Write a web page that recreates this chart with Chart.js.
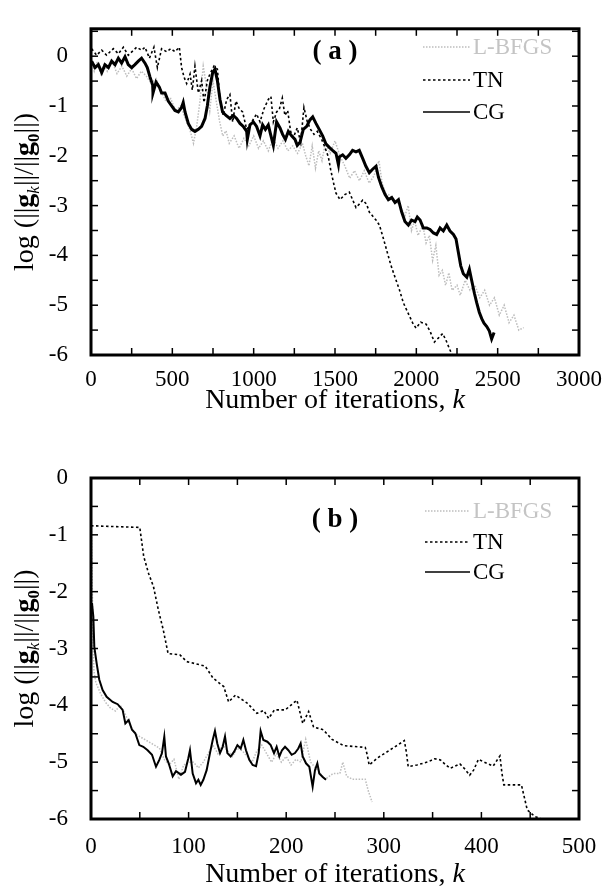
<!DOCTYPE html>
<html><head><meta charset="utf-8">
<script src="https://cdn.jsdelivr.net/npm/chart.js@4.4.0/dist/chart.umd.min.js"></script>
<style>
html,body{margin:0;padding:0;background:#fff;}
#wrap{position:relative;width:607px;height:890px;background:#fff;}
canvas{position:absolute;left:0;}
#ca{top:0;} #cb{top:445px;}
</style></head><body>
<div id="wrap"><canvas id="ca" width="607" height="445"></canvas><canvas id="cb" width="607" height="445"></canvas></div>
<script>
// ---------- Panel (a) data ----------
const A_X_TICKS = [0, 500, 1000, 1500, 2000, 2500, 3000];
const A_Y_TICKS = [-6, -5, -4, -3, -2, -1, 0];
const A_CG_X = [4,25,45,66,86,107,127,148,168,188,209,229,250,270,291,311,332,346,363,379,381,400,420,434,455,475,496,516,537,557,567,578,598,619,639,660,680,701,715,731,748,762,777,793,809,830,854,875,895,916,936,957,961,977,998,1018,1039,1055,1072,1090,1104,1121,1141,1162,1178,1195,1213,1233,1254,1268,1285,1305,1326,1346,1363,1383,1403,1424,1444,1465,1485,1506,1521,1527,1547,1567,1588,1608,1629,1649,1670,1690,1711,1731,1752,1767,1787,1808,1828,1849,1869,1890,1910,1930,1951,1971,1992,2006,2023,2043,2064,2084,2105,2125,2146,2166,2187,2207,2228,2244,2258,2273,2289,2310,2326,2340,2357,2371,2387,2402,2416,2433,2449,2463,2478];
const A_CG_Y = [-0.10,-0.23,-0.17,-0.33,-0.17,-0.23,-0.10,-0.17,-0.04,-0.14,-0.01,-0.17,-0.23,-0.17,-0.10,-0.04,-0.14,-0.23,-0.42,-0.58,-0.74,-0.52,-0.62,-0.74,-0.74,-0.90,-1.00,-1.09,-1.12,-1.03,-0.93,-1.12,-1.35,-1.47,-1.51,-1.47,-1.41,-1.25,-1.00,-0.62,-0.33,-0.26,-0.49,-0.87,-1.12,-1.19,-1.25,-1.19,-1.25,-1.35,-1.41,-1.51,-1.67,-1.38,-1.32,-1.41,-1.60,-1.38,-1.47,-1.38,-1.57,-1.79,-1.32,-1.44,-1.57,-1.67,-1.51,-1.60,-1.67,-1.79,-1.73,-1.47,-1.41,-1.28,-1.22,-1.35,-1.47,-1.60,-1.76,-1.83,-1.89,-1.95,-2.18,-2.02,-1.98,-2.05,-1.98,-1.89,-1.92,-1.89,-2.05,-2.21,-2.34,-2.27,-2.21,-2.43,-2.62,-2.78,-2.88,-2.84,-2.94,-2.88,-3.13,-3.32,-3.39,-3.29,-3.32,-3.23,-3.29,-3.45,-3.45,-3.48,-3.55,-3.58,-3.45,-3.51,-3.39,-3.51,-3.58,-3.67,-3.93,-4.21,-4.37,-4.44,-4.28,-4.50,-4.76,-4.95,-5.14,-5.27,-5.36,-5.43,-5.52,-5.68,-5.55];
const A_TN_X = [4,35,66,96,137,168,199,229,281,311,332,359,387,408,434,465,490,516,543,557,572,588,609,623,639,660,680,695,715,731,756,777,793,813,834,854,871,891,912,932,957,988,1018,1039,1063,1090,1106,1121,1141,1158,1176,1192,1209,1227,1244,1268,1289,1309,1330,1350,1371,1391,1418,1438,1459,1473,1490,1506,1531,1560,1588,1608,1629,1649,1670,1694,1711,1752,1773,1793,1818,1842,1869,1896,1920,1951,1978,1998,2027,2060,2084,2111,2135,2162,2183,2203,2220];
const A_TN_Y = [0.15,0.02,0.12,0.02,0.15,0.05,0.18,0.02,0.18,0.12,0.18,-0.04,0.18,-0.23,0.15,0.09,0.15,0.09,0.18,-0.23,-0.42,-0.55,-0.36,-0.68,-0.20,-0.74,-0.49,-0.93,-0.49,-0.36,-0.20,-0.26,-0.87,-1.19,-0.87,-0.77,-1.32,-0.90,-1.06,-1.12,-1.47,-1.32,-1.16,-1.32,-1.06,-0.87,-0.81,-1.32,-1.12,-1.06,-0.84,-1.19,-1.09,-1.51,-1.63,-1.44,-1.73,-1.03,-1.32,-1.47,-1.57,-1.51,-1.67,-1.83,-2.02,-2.27,-2.53,-2.75,-2.88,-2.78,-2.73,-2.88,-3.04,-2.97,-2.89,-2.97,-3.13,-3.29,-3.39,-3.61,-3.90,-4.18,-4.44,-4.69,-4.95,-5.17,-5.36,-5.46,-5.34,-5.38,-5.52,-5.74,-5.66,-5.57,-5.71,-5.87,-6.0];
const A_LB_X = [0,20,40,60,80,100,130,160,190,220,250,280,310,340,370,400,430,460,490,520,550,580,610,630,650,670,690,710,730,750,770,790,810,830,850,880,910,940,970,1000,1030,1060,1090,1120,1150,1180,1210,1240,1270,1300,1320,1340,1360,1380,1400,1420,1440,1470,1500,1530,1560,1590,1620,1650,1680,1710,1740,1770,1790,1810,1840,1870,1900,1930,1950,1970,1990,2010,2040,2060,2080,2100,2120,2140,2160,2180,2200,2220,2250,2270,2300,2330,2360,2390,2420,2450,2480,2510,2540,2570,2600,2630,2660];
const A_LB_Y = [-0.05,-0.3,-0.1,-0.35,-0.15,-0.3,-0.1,-0.35,-0.2,-0.4,-0.25,-0.45,-0.3,-0.4,-0.55,-0.45,-0.7,-0.9,-0.85,-1.1,-1.0,-1.25,-1.5,-1.75,-1.4,-0.9,-0.2,-0.6,-1.1,-0.5,-0.9,-1.3,-1.6,-1.5,-1.75,-1.6,-1.85,-1.65,-1.8,-1.6,-1.85,-1.7,-1.9,-1.65,-1.85,-1.7,-1.9,-1.8,-1.95,-1.75,-2.0,-2.2,-1.8,-2.25,-1.9,-2.1,-1.75,-1.95,-1.7,-2.0,-2.2,-2.45,-2.3,-2.5,-2.3,-2.55,-2.4,-2.1,-2.55,-2.75,-2.8,-2.9,-3.0,-3.2,-3.0,-3.5,-3.3,-3.6,-3.4,-3.75,-3.6,-4.1,-3.8,-4.4,-4.3,-4.6,-4.35,-4.7,-4.6,-4.8,-4.5,-4.7,-4.6,-4.85,-4.7,-5.0,-4.85,-5.2,-5.0,-5.35,-5.2,-5.5,-5.45];

// ---------- Panel (b) data ----------
const B_X_TICKS = [0, 100, 200, 300, 400, 500];
const B_Y_TICKS = [-6, -5, -4, -3, -2, -1, 0];
const B_CG_X = [1,2.4,3.4,5.8,8.5,11.9,16,22.2,27.3,32.4,35.2,38.6,42,45.4,49.5,53.6,58,62.5,66.6,70,72.7,75.1,76.8,79.6,83.7,87.1,92.2,96.3,99.7,101.4,104.2,107.6,110,112.4,115.1,118.5,121.9,124.7,127,129.4,132.2,134.9,137.3,139.7,143.1,146.5,150,153.4,156.1,158.8,162.2,165.6,169.1,171.8,173.8,176.6,180.7,184.1,187.5,190.2,193,195.7,198.8,202.2,205.6,209,212.4,214.8,216.9,220.3,223.7,227.1,229.5,231.9,233.9,237.4,240.8];
const B_CG_Y = [-2.2,-2.44,-2.97,-3.26,-3.55,-3.73,-3.85,-3.94,-3.98,-4.08,-4.32,-4.26,-4.43,-4.49,-4.70,-4.73,-4.79,-4.87,-5.08,-4.96,-4.84,-4.55,-4.90,-5.02,-5.25,-5.16,-5.22,-5.17,-4.93,-4.79,-5.2,-5.37,-5.31,-5.40,-5.31,-5.14,-4.84,-4.61,-4.45,-4.67,-4.84,-4.73,-4.55,-4.84,-4.90,-4.82,-4.70,-4.76,-4.61,-4.79,-4.96,-5.05,-5.07,-4.84,-4.45,-4.61,-4.64,-4.70,-4.84,-4.73,-4.90,-4.79,-4.73,-4.79,-4.87,-4.84,-4.76,-4.67,-4.90,-5.02,-5.08,-5.43,-5.14,-5.02,-5.2,-5.26,-5.31];
const B_TN_X = [0,50,54,59,64,69,74,79,91,98,117,125,136,141,148,160,170,177,182,188,199,211,217,223,228,238,247,259,274,281,283,285,294,305,315,321,323,325,334,346,352,358,363,368,373,378,383,388,392,397,403,412,419,421,423,441,444,447,455,462];
const B_TN_Y = [-0.84,-0.87,-1.38,-1.68,-1.91,-2.32,-2.67,-3.09,-3.11,-3.23,-3.31,-3.52,-3.67,-3.94,-3.82,-3.96,-4.14,-4.09,-4.23,-4.08,-4.08,-3.91,-4.32,-4.11,-4.38,-4.43,-4.60,-4.71,-4.73,-4.74,-4.87,-5.05,-4.92,-4.80,-4.69,-4.62,-4.81,-5.08,-5.05,-4.99,-4.94,-4.96,-5.04,-5.11,-5.07,-5.03,-5.12,-5.23,-5.14,-4.95,-5.00,-5.07,-4.89,-5.19,-5.40,-5.40,-5.62,-5.84,-5.96,-6.0];
const B_LB_X = [0,1,2,3,5,10,15,20,25,30,35,40,45,50,55,60,65,70,75,80,85,90,95,100,105,110,115,120,125,130,135,140,145,150,155,160,165,170,175,180,185,190,195,200,205,210,215,220,225,230,235,240,248,255,258,262,268,275,281,284,288];
const B_LB_Y = [-0.3,-1.5,-2.8,-3.4,-3.6,-3.8,-3.95,-4.05,-4.1,-4.0,-4.15,-4.35,-4.5,-4.55,-4.6,-4.65,-4.7,-4.75,-4.95,-5.05,-4.95,-5.3,-5.05,-5.0,-5.0,-5.1,-5.0,-4.85,-4.7,-4.85,-4.7,-4.8,-4.9,-4.75,-4.8,-4.9,-5.0,-4.8,-4.7,-4.85,-5.0,-4.85,-5.0,-4.9,-5.05,-4.95,-5.0,-4.6,-5.0,-5.1,-5.2,-5.3,-5.2,-5.2,-5.0,-5.25,-5.3,-5.3,-5.3,-5.5,-5.7];

const SERIES_NAMES = ['CG', 'TN', 'L-BFGS'];

// ---------- rendering ----------
const FONT = "'Liberation Serif', 'Times New Roman', serif";
const pts = (xs, ys) => xs.map((x, i) => ({x: x, y: ys[i]}));
function range(a, b, s){ const r=[]; for(let v=a; v<=b+1e-9; v+=s) r.push(+v.toFixed(4)); return r; }

function drawRich(ctx, segs, x, y, align){
  let w = 0;
  segs.forEach(s => { ctx.font = s.font; s.w = ctx.measureText(s.t).width; w += s.w + (s.gap || 0); });
  let cx = align === 'center' ? x - w/2 : x;
  segs.forEach(s => { ctx.font = s.font; ctx.fillText(s.t, cx, y + (s.dy || 0)); cx += s.w + (s.gap || 0); });
}

function decoPlugin(cfg){
  return {
    id: 'deco',
    afterDraw(chart){
      const ctx = chart.ctx, a = chart.chartArea, xs = chart.scales.x, ys = chart.scales.y;
      ctx.save();
      ctx.strokeStyle = '#000'; ctx.lineWidth = 1.5;
      const ln = (x1,y1,x2,y2) => { ctx.beginPath(); ctx.moveTo(x1,y1); ctx.lineTo(x2,y2); ctx.stroke(); };
      cfg.xMarks.forEach(v => { const p = xs.getPixelForValue(v); ln(p, a.bottom, p, a.bottom - 7); ln(p, a.top, p, a.top + 7); });
      cfg.yMarks.forEach(v => { const p = ys.getPixelForValue(v); ln(a.left, p, a.left + 7, p); ln(a.right, p, a.right - 7, p); });
      ctx.lineWidth = 3;
      ctx.strokeRect(a.left, a.top, a.right - a.left, a.bottom - a.top);
      ctx.fillStyle = '#000';
      ctx.textBaseline = 'alphabetic';
      // x title
      drawRich(ctx, [
        {t: 'Number of iterations, ', font: '28px ' + FONT},
        {t: 'k', font: 'italic 28px ' + FONT}
      ], (a.left + a.right)/2, cfg.xTitleY, 'center');
      // y title
      ctx.save();
      ctx.translate(cfg.yTitleX, (a.top + a.bottom)/2);
      ctx.rotate(-Math.PI/2);
      drawRich(ctx, [
        {t: 'log (||', font: '28px ' + FONT},
        {t: 'g', font: 'bold 28px ' + FONT},
        {t: 'k', font: 'italic 17px ' + FONT, dy: 6},
        {t: '||/||', font: '28px ' + FONT},
        {t: 'g', font: 'bold 28px ' + FONT},
        {t: '0', font: 'bold 17px ' + FONT, dy: 6},
        {t: '||)', font: '28px ' + FONT}
      ], 0, 9, 'center');
      ctx.restore();
      // panel label
      ctx.font = 'bold 27px ' + FONT; ctx.textAlign = 'center';
      ctx.fillText(cfg.label, cfg.labelX, cfg.labelY);
      // legend (drawn in order L-BFGS, TN, CG)
      ctx.textAlign = 'left';
      const order = [2, 1, 0];
      order.forEach((di, row) => {
        const ds = chart.data.datasets[di];
        const y = cfg.legY[row];
        ctx.save();
        ctx.strokeStyle = ds.borderColor; ctx.lineWidth = di === 0 ? 1.5 : ds.borderWidth;
        ctx.setLineDash(ds.borderDash || []);
        ln(cfg.legX1, y, cfg.legX2, y);
        ctx.restore();
        ctx.fillStyle = di === 2 ? '#c4c4c4' : '#000';
        ctx.font = '23px ' + FONT; ctx.textBaseline = 'middle';
        ctx.fillText(ds.label, cfg.legX2 + 3, y + 1);
      });
      ctx.restore();
    }
  };
}

function makePanel(id, p){
  return new Chart(document.getElementById(id), {
    type: 'line',
    data: { datasets: [
      {label: SERIES_NAMES[0], data: pts(p.cgX, p.cgY), borderColor: '#000', borderWidth: p.cgW, pointRadius: 0, tension: 0, fill: false},
      {label: SERIES_NAMES[1], data: pts(p.tnX, p.tnY), borderColor: '#000', borderWidth: 1.6, borderDash: [2.5, 2.5], pointRadius: 0, tension: 0, fill: false},
      {label: SERIES_NAMES[2], data: pts(p.lbX, p.lbY), borderColor: '#bdbdbd', borderWidth: 1.5, borderDash: [1.5, 1.5], pointRadius: 0, tension: 0, fill: false}
    ]},
    options: {
      responsive: false, animation: false, devicePixelRatio: 1,
      layout: { padding: { left: 0, right: 28, top: p.top, bottom: 0 } },
      plugins: { legend: { display: false }, tooltip: { enabled: false } },
      scales: {
        x: { type: 'linear', position: 'bottom', min: p.xMin, max: p.xMax,
             grid: { display: false }, border: { display: false },
             ticks: { color: '#000', font: { family: FONT, size: 23 }, padding: p.xPad, maxRotation: 0, autoSkip: false,
                      callback: v => String(v) },
             afterBuildTicks: s => { s.ticks = p.xTicks.map(v => ({value: v})); },
             afterFit: s => { s.height = p.xAxisH; } },
        y: { type: 'linear', min: -6, max: p.yMax,
             grid: { display: false }, border: { display: false },
             ticks: { color: '#000', font: { family: FONT, size: 23 }, padding: 15, autoSkip: false,
                      callback: v => String(v) },
             afterBuildTicks: s => { s.ticks = p.yTicks.map(v => ({value: v})); },
             afterFit: s => { s.width = 91; } }
      }
    },
    plugins: [decoPlugin(p.deco)]
  });
}

makePanel('ca', {
  cgX: A_CG_X, cgY: A_CG_Y, tnX: A_TN_X, tnY: A_TN_Y, lbX: A_LB_X, lbY: A_LB_Y, cgW: 3,
  xMin: 0, xMax: 3000, yMax: 0.55, top: 12, xAxisH: 90, xPad: 3, xTicks: A_X_TICKS, yTicks: A_Y_TICKS,
  deco: { xMarks: range(0, 3000, 250), yMarks: range(-6, 0.5, 0.5), xTitleY: 408, yTitleX: 24,
          label: '( a )', labelX: 335, labelY: 59, legX1: 423, legX2: 470, legY: [47, 80, 112] }
});
makePanel('cb', {
  cgX: B_CG_X, cgY: B_CG_Y, tnX: B_TN_X, tnY: B_TN_Y, lbX: B_LB_X, lbY: B_LB_Y, cgW: 2,
  xMin: 0, xMax: 500, yMax: 0, top: 33, xAxisH: 71, xPad: 6, xTicks: B_X_TICKS, yTicks: B_Y_TICKS,
  deco: { xMarks: range(0, 500, 50), yMarks: range(-6, 0, 0.5), xTitleY: 437, yTitleX: 24,
          label: '( b )', labelX: 335, labelY: 82, legX1: 425, legX2: 470, legY: [66, 97, 127] }
});
</script>
</body></html>
